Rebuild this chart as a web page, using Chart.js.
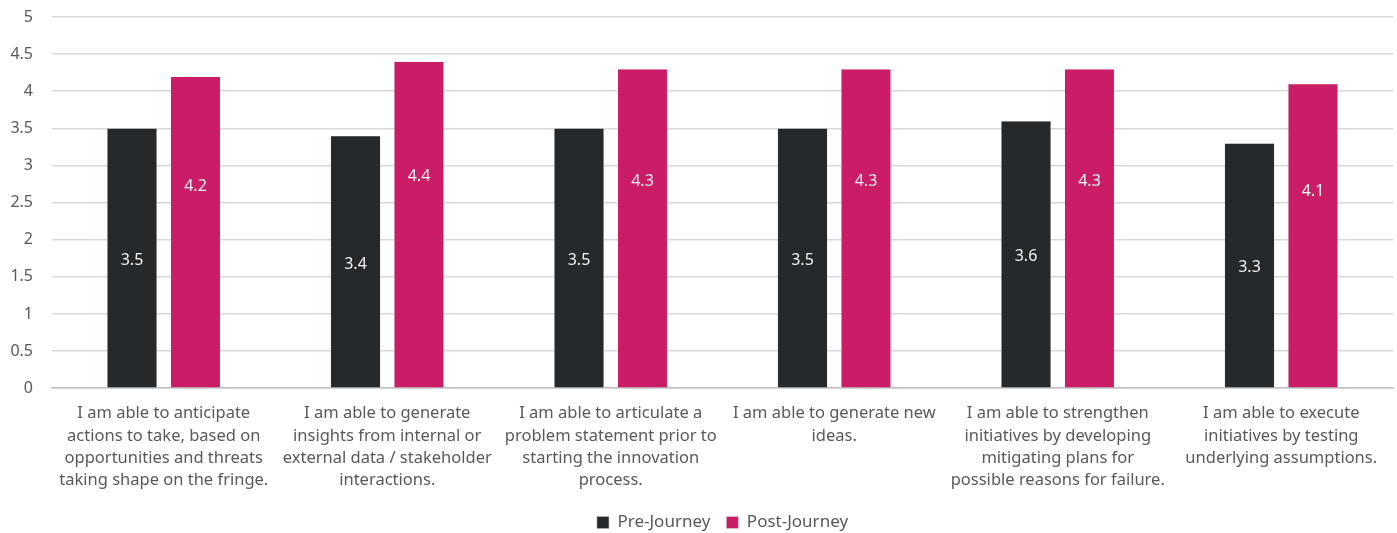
<!DOCTYPE html>
<html>
<head>
<meta charset="utf-8">
<script src="https://cdn.jsdelivr.net/npm/chart.js@4"></script>
<style>
  html, body { margin: 0; padding: 0; background: #fff; }
  #wrap { width: 1397px; height: 533px; }
</style>
</head>
<body>
<div id="wrap"><canvas id="chart"></canvas></div>
<script>
const categories = [
  ['I am able to anticipate', 'actions to take, based on', 'opportunities and threats', 'taking shape on the fringe.'],
  ['I am able to generate', 'insights from internal or', 'external data / stakeholder', 'interactions.'],
  ['I am able to articulate a', 'problem statement prior to', 'starting the innovation', 'process.'],
  ['I am able to generate new', 'ideas.'],
  ['I am able to strengthen', 'initiatives by developing', 'mitigating plans for', 'possible reasons for failure.'],
  ['I am able to execute', 'initiatives by testing', 'underlying assumptions.']
];
const preJourney = [3.5, 3.4, 3.5, 3.5, 3.6, 3.3];
const postJourney = [4.2, 4.4, 4.3, 4.3, 4.3, 4.1];
const yTicks = [0, 0.5, 1, 1.5, 2, 2.5, 3, 3.5, 4, 4.5, 5];

const FONT = '"Noto Sans", sans-serif';
const TEXT = '#595959';

// value labels inside the bars; the pink ones sit higher up, as in the original
const labelFrac = [0.49, 0.647];
const barLabels = {
  id: 'barLabels',
  afterDatasetsDraw(chart) {
    const ctx = chart.ctx;
    ctx.save();
    ctx.font = `16px ${FONT}`;
    ctx.fillStyle = '#f2f2f2';
    ctx.textAlign = 'center';
    ctx.textBaseline = 'middle';
    chart.data.datasets.forEach((ds, i) => {
      chart.getDatasetMeta(i).data.forEach((bar, j) => {
        const y = bar.base + (bar.y - bar.base) * labelFrac[i];
        ctx.fillText(String(ds.data[j]), bar.x, y);
      });
    });
    ctx.restore();
  }
};

new Chart(document.getElementById('chart'), {
  type: 'bar',
  data: {
    labels: categories,
    datasets: [
      { label: 'Pre-Journey', data: preJourney, backgroundColor: '#25292c', borderColor: '#bfbfbf', borderWidth: 0.5 },
      { label: 'Post-Journey', data: postJourney, backgroundColor: '#cb1d67', borderColor: '#d9d9d9', borderWidth: 0.5 }
    ]
  },
  options: {
    responsive: true,
    maintainAspectRatio: false,
    animation: false,
    datasets: { bar: { categoryPercentage: 0.568, barPercentage: 0.787 } },
    layout: { padding: { left: 0, right: 4, top: 17, bottom: -8 } },
    plugins: {
      legend: {
        position: 'bottom',
        fullSize: false,
        labels: { font: { family: FONT, size: 17 }, color: TEXT, boxWidth: 12, boxHeight: 12, padding: 16 }
      },
      tooltip: { enabled: false }
    },
    scales: {
      x: {
        grid: { display: false },
        border: { color: '#bfbfbf', width: 1.5 },
        ticks: { font: { family: FONT, size: 16.5, lineHeight: 1.36 }, color: TEXT, maxRotation: 0, autoSkip: false, padding: 6 },
        afterFit: axis => { axis.paddingLeft = 0; axis.paddingRight = 0; }
      },
      y: {
        min: 0, max: 5,
        afterBuildTicks: axis => { axis.ticks = yTicks.map(v => ({ value: v })); },
        afterFit: axis => { axis.width = 52; axis.paddingTop = 0; axis.paddingBottom = 0; },
        grid: { color: '#d9d9d9', lineWidth: 1.5, drawTicks: false },
        border: { display: false },
        ticks: { font: { family: FONT, size: 16 }, color: TEXT, padding: 19, callback: v => String(v) }
      }
    }
  },
  plugins: [barLabels]
});
</script>
</body>
</html>
